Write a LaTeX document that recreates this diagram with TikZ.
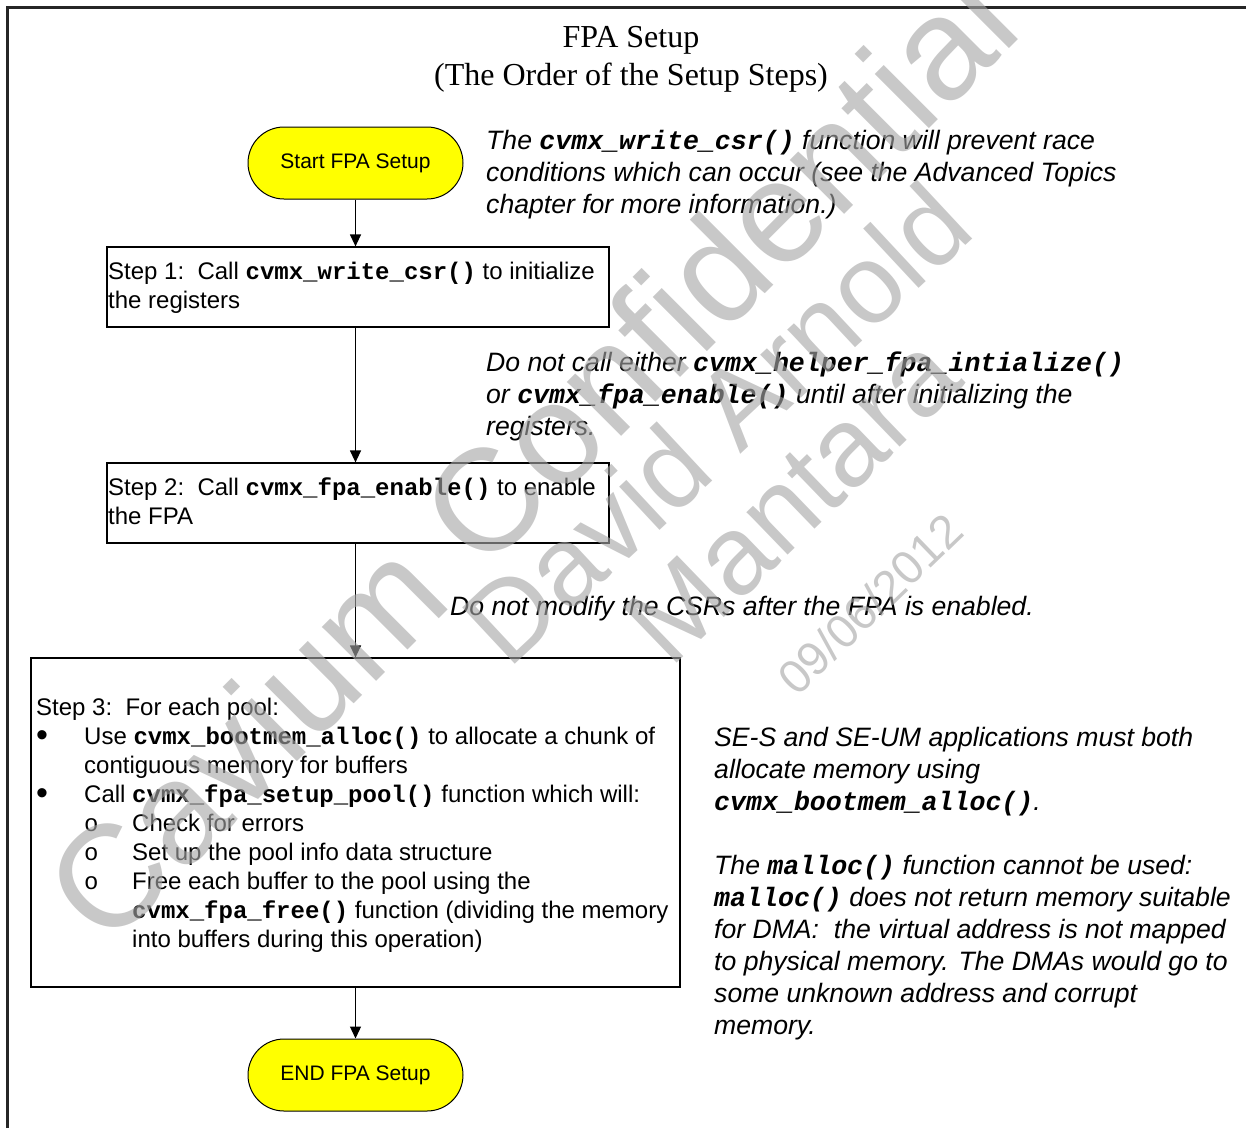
\documentclass[tikz,border=0pt]{standalone}
\usepackage{fontspec}
\setmainfont{Liberation Sans}
\newfontfamily\serifttl{Liberation Serif}
\newfontfamily\codefont{Liberation Mono}
\usetikzlibrary{shapes.misc,arrows.meta}
\definecolor{termyellow}{HTML}{FFFF00}
\newcommand\code[1]{{\codefont\bfseries #1}}
\newcommand\bigbullet{\makebox[48pt][l]{\raisebox{-2.5pt}{\fontsize{34}{29}\selectfont •}}}
\newcommand\subbullet{\makebox[48pt][l]{\codefont o}}
\begin{document}
\begin{tikzpicture}[x=1pt,y=-1pt,
  term/.style={rounded rectangle, draw=black, line width=1pt, fill=termyellow,
    minimum width=215pt, minimum height=72pt, inner sep=0pt,
    font=\fontsize{21}{25}\selectfont},
  stepbox/.style={rectangle, draw=black, line width=1.2pt, inner sep=0pt},
  flow/.style={line width=1.2pt, -{Triangle[length=12pt,width=11pt]}},
  boxtext/.style={anchor=north west, inner sep=0pt, align=left,
    font=\fontsize{24}{29}\selectfont},
  notetext/.style={anchor=north west, inner sep=0pt, align=left,
    font=\fontsize{26.6}{32}\selectfont\itshape},
  wmark/.style={text=black!35, text opacity=0.62, inner sep=0pt}
]
\useasboundingbox (0,0) rectangle (1246,1128);

% outer frame
\draw[line width=2.5pt, black!85] (7.5,1128) -- (7.5,7.5) -- (1246,7.5);

% heading
\node[anchor=north, align=center, inner sep=0pt,
      font=\serifttl\fontsize{32}{38}\selectfont] (title) at (631,20.4)
  {\strut FPA Setup\\(The Order of the Setup Steps)};

% flow chart
\node[term] (start) at (355.5,163) {Start FPA Setup};
\node[stepbox, minimum width=502pt, minimum height=80pt] (s1) at (358,287) {};
\node[stepbox, minimum width=502pt, minimum height=80pt] (s2) at (358,503) {};
\node[stepbox, minimum width=649pt, minimum height=329pt] (s3) at (355.5,822.5) {};
\node[term] (stop) at (355.5,1075) {END FPA Setup};

\draw[flow] (start.south) -- (start.south |- s1.north);
\draw[flow] (start.south |- s1.south) -- (start.south |- s2.north);
\draw[flow] (start.south |- s2.south) -- (s3.north);
\draw[flow] (s3.south) -- (stop.north);

% box texts
\node[boxtext] (t1) at (108,258.7)
  {\strut Step 1:\ \ Call \code{cvmx\_write\_csr()} to initialize\\the registers};
\node[boxtext] (t2) at (108,474.7)
  {\strut Step 2:\ \ Call \code{cvmx\_fpa\_enable()} to enable\\the FPA};
\node[boxtext] (t3) at (36,694.7)
  {\strut Step 3:\ \ For each pool:\\
   \bigbullet Use \code{cvmx\_bootmem\_alloc()} to allocate a chunk of\\
   \hspace*{48pt}contiguous memory for buffers\\
   \bigbullet Call \code{cvmx\_fpa\_setup\_pool()} function which will:\\
   \hspace*{48pt}\subbullet Check for errors\\
   \hspace*{48pt}\subbullet Set up the pool info data structure\\
   \hspace*{48pt}\subbullet Free each buffer to the pool using the\\
   \hspace*{96pt}\code{cvmx\_fpa\_free()} function (dividing the memory\\
   \hspace*{96pt}into buffers during this operation)};

% side notes
\node[notetext] (n1) at (486,126.6)
  {\strut The \code{cvmx\_write\_csr()} function will prevent race\\
   conditions which can occur (see the Advanced Topics\\
   chapter for more information.)};
\node[notetext] (n2) at (486,348.6)
  {\strut Do not call either \code{cvmx\_helper\_fpa\_intialize()}\\
   or \code{cvmx\_fpa\_enable()} until after initializing the\\
   registers.};
\node[notetext] (n3) at (450,592.6)
  {\strut Do not modify the CSRs after the FPA is enabled.};
\node[notetext] (n4) at (714,723.6)
  {\strut SE-S and SE-UM applications must both\\
   allocate memory using\\
   \code{cvmx\_bootmem\_alloc()}.\\[32pt]
   The \code{malloc()} function cannot be used:\\
   \code{malloc()} does not return memory suitable\\
   for DMA:\ \ the virtual address is not mapped\\
   to physical memory. The DMAs would go to\\
   some unknown address and corrupt\\
   memory.};

% watermark
\node[wmark, rotate=45, font=\fontsize{145}{145}\selectfont] (wm1) at (530,455) {Cavium Confidential};
\node[wmark, rotate=43, font=\fontsize{112}{112}\selectfont] (wm2) at (716,423) {David Arnold};
\node[wmark, rotate=44, font=\fontsize{112}{112}\selectfont] (wm3) at (792,499) {Mantara};
\node[wmark, rotate=44, font=\fontsize{47}{47}\selectfont] (wm4) at (870,604) {09/06/2012};
\end{tikzpicture}
\end{document}
